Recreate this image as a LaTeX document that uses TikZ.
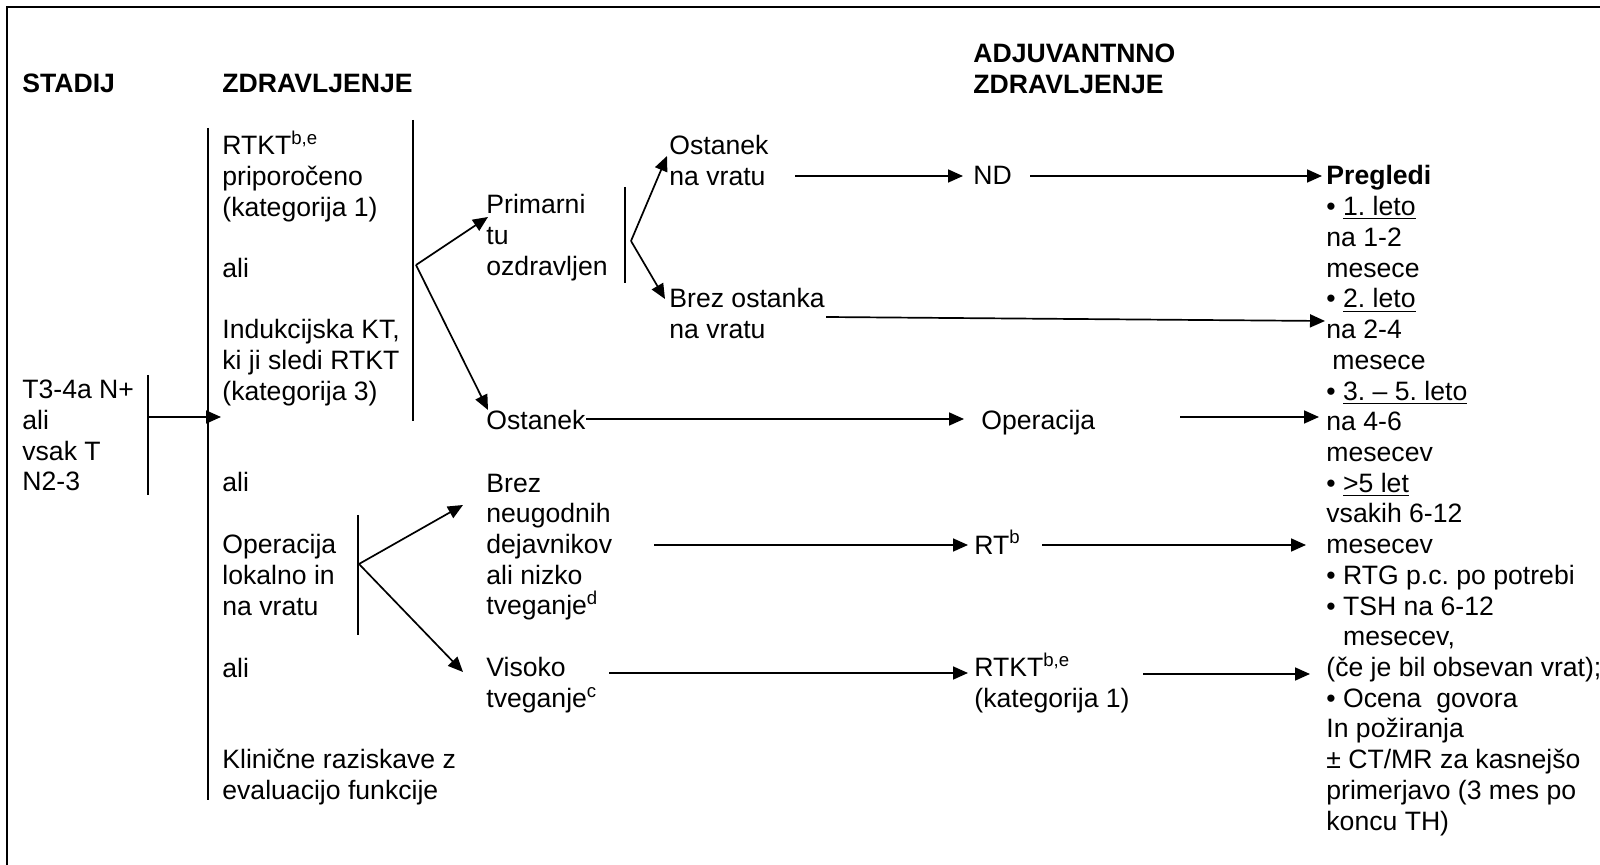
\documentclass[tikz,border=0pt]{standalone}
\usepackage{fontspec}
\setmainfont{Liberation Sans}
\usetikzlibrary{arrows.meta}
\begin{document}
\frenchspacing
\begin{tikzpicture}[x=0.5pt,y=-0.5pt,
  % multi-line nodes are placed by the baseline of their last line
  txt/.style={inner sep=0pt, anchor=base west, align=left, font=\fontsize{13.3}{15.36}\selectfont},
  hdr/.style={txt, font=\fontsize{13.3}{15.36}\selectfont\bfseries},
  bar/.style={line width=0.8pt},
  arr/.style={line width=0.85pt, -{Triangle[length=7.5pt,width=6.5pt]}},
  frame/.style={line width=1.3pt}]
\useasboundingbox (0,0) rectangle (1600,865);

% outer frame (top and left edges)
\draw[frame] (1600,7) -- (7,7) -- (7,865);

% column headings
\node[hdr] (hstad) at (22,93) {STADIJ};
\node[hdr] (hzdr) at (222,93) {ZDRAVLJENJE};
\node[hdr] (hadj) at (973,93.7) {ADJUVANTNNO\\ZDRAVLJENJE};

% stage
\node[txt] (stage) at (22,491) {T3-4a N+\\ali\\vsak T\\N2-3};

% primary treatment options
\node[txt] (rtkt) at (222,216.4) {RTKT\textsuperscript{b,e}\\priporočeno\\(kategorija 1)};
\node[txt] (ali1) at (222,278) {ali};
\node[txt] (ind) at (222,400.4) {Indukcijska KT,\\ki ji sledi RTKT\\(kategorija 3)};
\node[txt] (ali2) at (222,492) {ali};
\node[txt] (oper) at (222,615.4) {Operacija\\lokalno in\\na vratu};
\node[txt] (ali3) at (222,677) {ali};
\node[txt] (klin) at (222,799.7) {Klinične raziskave z\\evaluacijo funkcije};

% response / pathology
\node[txt] (prim) at (486,275.4) {Primarni\\tu\\ozdravljen};
\node[txt] (ostL) at (486,430) {Ostanek};
\node[txt] (ostU) at (669,185.7) {Ostanek\\na vratu};
\node[txt] (brezO) at (669,338.7) {Brez ostanka\\na vratu};
\node[txt] (brezN) at (486,614.9) {Brez\\neugodnih\\dejavnikov\\ali nizko\\tveganje\textsuperscript{d}};
\node[txt] (visoko) at (486,707.7) {Visoko\\tveganje\textsuperscript{c}};

% adjuvant treatment
\node[txt] (nd) at (973,185) {ND};
\node[txt] (opadj) at (981,430) {Operacija};
\node[txt] (rtb) at (974,554) {RT\textsuperscript{b}};
\node[txt] (rtktadj) at (974,707.7) {RTKT\textsuperscript{b,e}\\(kategorija 1)};

% follow-up
\node[txt] (preg) at (1326,830.1) {\textbf{Pregledi}\\
• \underline{1. leto}\\
na 1-2\\
mesece\\
• \underline{2. leto}\\
na 2-4\\
\hspace*{3pt}mesece\\
• \underline{3. – 5. leto}\\
na 4-6\\
mesecev\\
• \underline{>5 let}\\
vsakih 6-12\\
mesecev\\
• RTG p.c. po potrebi\\
• TSH na 6-12\\
\phantom{• }mesecev,\\
(če je bil obsevan vrat);\\
• Ocena\ \ govora\\
In požiranja\\
± CT/MR za kasnejšo\\
primerjavo (3 mes po\\
koncu TH)};

% bracket bars
\draw[bar] (148,375) -- (148,495);
\draw[bar] (208,128) -- (208,800);
\draw[bar] (413,120) -- (413,421);
\draw[bar] (625,187) -- (625,283);
\draw[bar] (358,515) -- (358,635);

% fork points and arrow ends
\coordinate (stOut) at (148,417);
\coordinate (txIn) at (221,417);
\coordinate (forkB) at (416,265);
\coordinate (primIn) at (488,217);
\coordinate (ostLIn) at (488,410);
\coordinate (forkC) at (631,241);
\coordinate (ostUIn) at (667,156);
\coordinate (brezOIn) at (665,299);
\coordinate (forkE) at (359,564);
\coordinate (brezNIn) at (463,505);
\coordinate (visIn) at (463,672);

\coordinate (ostUOut) at (795,176);
\coordinate (ndIn) at (963,176);
\coordinate (ndOut) at (1030,176);
\coordinate (pregIn) at (1322,176);
\coordinate (brezOOut) at (826,317);
\coordinate (pregIn2) at (1325,321);
\coordinate (ostLOut) at (586,419);
\coordinate (opIn) at (964,419);
\coordinate (opOut) at (1180,417);
\coordinate (pregIn3) at (1319,417);
\coordinate (brezNOut) at (654,545);
\coordinate (rtbIn) at (968,545);
\coordinate (rtbOut) at (1042,545);
\coordinate (pregIn4) at (1306,545);
\coordinate (visOut) at (609,673);
\coordinate (rtktIn) at (968,673);
\coordinate (rtktOut) at (1143,674);
\coordinate (pregIn5) at (1310,674);

% connectors
\draw[arr] (stOut) -- (txIn);
\draw[arr] (forkB) -- (primIn);
\draw[arr] (forkB) -- (ostLIn);
\draw[arr] (forkC) -- (ostUIn);
\draw[arr] (forkC) -- (brezOIn);
\draw[arr] (forkE) -- (brezNIn);
\draw[arr] (forkE) -- (visIn);
\draw[arr] (ostUOut) -- (ndIn);
\draw[arr] (ndOut) -- (pregIn);
\draw[arr] (brezOOut) -- (pregIn2);
\draw[arr] (ostLOut) -- (opIn);
\draw[arr] (opOut) -- (pregIn3);
\draw[arr] (brezNOut) -- (rtbIn);
\draw[arr] (rtbOut) -- (pregIn4);
\draw[arr] (visOut) -- (rtktIn);
\draw[arr] (rtktOut) -- (pregIn5);
\end{tikzpicture}
\end{document}
